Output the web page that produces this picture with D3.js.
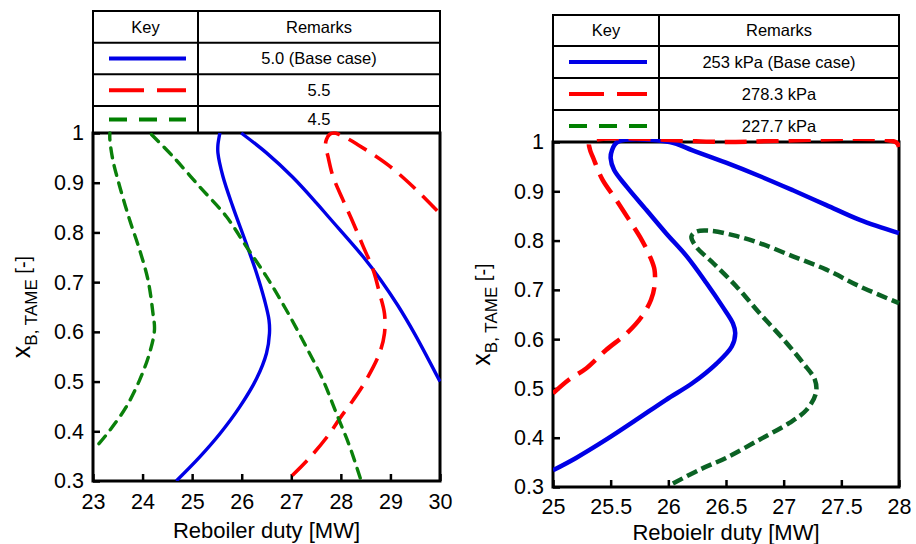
<!DOCTYPE html>
<html>
<head>
<meta charset="utf-8">
<script src="https://cdn.jsdelivr.net/npm/d3@7"></script>
<style>
  body { margin: 0; background: #fff; }
  svg { display: block; font-family: Arial, "Liberation Sans", sans-serif; }
</style>
</head>
<body>
<div id="chart"></div>
<script>
// ---- Datos: panel izquierdo (relación de reflujo) ----
const refluxTicksX = [23, 24, 25, 26, 27, 28, 29, 30]
const fracTicksY = [0.3, 0.4, 0.5, 0.6, 0.7, 0.8, 0.9, 1.0]
const refluxLabels = ["5.0 (Base case)", "5.5", "4.5"]

const refluxBaseLower = [
  [24.68, 0.300], [25.15, 0.348], [25.56, 0.395], [25.96, 0.449], [26.30, 0.506],
  [26.50, 0.557], [26.56, 0.597], [26.55, 0.624], [26.46, 0.664], [26.30, 0.718],
  [26.09, 0.778], [25.82, 0.852], [25.62, 0.913], [25.52, 0.960], [25.52, 0.976], [25.56, 1.0]
]
const refluxBaseUpper = [
  [25.99, 1.0], [26.50, 0.960], [27.03, 0.911], [27.51, 0.859], [27.78, 0.828],
  [28.45, 0.751], [28.80, 0.705], [29.15, 0.653], [29.50, 0.594], [30.0, 0.500]
]
const refluxHigh = [
  [27.02, 0.311], [27.40, 0.350], [27.77, 0.395], [27.98, 0.426], [28.25, 0.463],
  [28.51, 0.503], [28.78, 0.557], [28.88, 0.597], [28.88, 0.637], [28.78, 0.678],
  [28.65, 0.725], [28.45, 0.772], [28.25, 0.819], [28.04, 0.866], [27.84, 0.913],
  [27.74, 0.953], [27.69, 0.975], [27.71, 0.987], [27.77, 0.997], [27.86, 1.0],
  [27.97, 0.997], [28.15, 0.988], [28.35, 0.976], [28.65, 0.957], [28.95, 0.936],
  [29.26, 0.910], [29.56, 0.882], [29.80, 0.858], [30.0, 0.838]
]
const refluxLowLeft = [
  [23.12, 0.375], [23.34, 0.402], [23.67, 0.449], [23.94, 0.503], [24.14, 0.557],
  [24.24, 0.604], [24.21, 0.637], [24.11, 0.704], [23.94, 0.765], [23.74, 0.825],
  [23.54, 0.892], [23.40, 0.946], [23.34, 0.987], [23.34, 1.0]
]
const refluxLowRight = [
  [24.18, 0.997], [24.61, 0.953], [25.15, 0.892], [25.69, 0.832], [26.09, 0.772],
  [26.50, 0.711], [26.90, 0.644], [27.30, 0.570], [27.64, 0.503], [27.91, 0.436],
  [28.18, 0.369], [28.41, 0.300]
]

// ---- Datos: panel derecho (presión) ----
const pressureTicksX = [25, 25.5, 26, 26.5, 27, 27.5, 28]
const pressureLabels = ["253 kPa (Base case)", "278.3 kPa", "227.7 kPa"]

const pressureBase = [
  [25.0, 0.334], [25.20, 0.359], [25.46, 0.396], [25.72, 0.436], [25.98, 0.477],
  [26.21, 0.511], [26.42, 0.551], [26.55, 0.585], [26.58, 0.612], [26.56, 0.632],
  [26.47, 0.666], [26.33, 0.714], [26.16, 0.768], [25.98, 0.815], [25.81, 0.862],
  [25.64, 0.909], [25.53, 0.943], [25.50, 0.967], [25.51, 0.982], [25.56, 1.0],
  [26.01, 1.0], [26.21, 0.983], [26.50, 0.958], [26.79, 0.931], [27.08, 0.902],
  [27.37, 0.872], [27.66, 0.842], [28.0, 0.815]
]
const pressureHigh = [
  [25.0, 0.490], [25.14, 0.518], [25.29, 0.541], [25.46, 0.578], [25.64, 0.612],
  [25.77, 0.646], [25.85, 0.680], [25.88, 0.707], [25.88, 0.741], [25.84, 0.768],
  [25.77, 0.801], [25.66, 0.842], [25.55, 0.882], [25.43, 0.923], [25.35, 0.967],
  [25.32, 0.985], [25.32, 1.0], [26.5, 1.0], [27.97, 1.0], [28.0, 0.99]
]
const pressureLow = [
  [26.04, 0.307], [26.27, 0.335], [26.50, 0.359], [26.79, 0.396], [27.05, 0.430],
  [27.20, 0.457], [27.28, 0.491], [27.27, 0.518], [27.17, 0.551], [27.0, 0.599],
  [26.79, 0.653], [26.59, 0.707], [26.39, 0.754], [26.24, 0.788], [26.20, 0.808],
  [26.24, 0.818], [26.36, 0.820], [26.56, 0.811], [26.79, 0.795], [27.08, 0.768],
  [27.37, 0.741], [27.66, 0.707], [28.0, 0.673]
]

const svg = d3.select("#chart").append("svg")
  .attr("width", 916)
  .attr("height", 544)

function drawPanel(cfg, idx) {
  const { box, table } = cfg

  const x = d3.scaleLinear().domain(cfg.xDomain).range([box.left, box.right])
  const y = d3.scaleLinear().domain([0.3, 1]).range([box.bottom, box.top])

  // Tabla de leyenda (Key / Remarks)
  const tg = svg.append("g")
  const rows = table.rows
  tg.append("rect")
    .attr("x", box.left).attr("y", rows[0])
    .attr("width", box.right - box.left).attr("height", rows[rows.length - 1] - rows[0])
    .attr("fill", "#fff").attr("stroke", "#000").attr("stroke-width", 2)
  rows.slice(1, -1).forEach(r => {
    tg.append("line")
      .attr("x1", box.left).attr("x2", box.right)
      .attr("y1", r).attr("y2", r)
      .attr("stroke", "#000").attr("stroke-width", 2)
  })
  tg.append("line")
    .attr("x1", table.keyX).attr("x2", table.keyX)
    .attr("y1", rows[0]).attr("y2", rows[rows.length - 1] + 2)
    .attr("stroke", "#000").attr("stroke-width", 2)

  const keyMid = (box.left + table.keyX) / 2
  const remMid = (table.keyX + box.right) / 2
  const rowMid = i => (rows[i] + rows[i + 1]) / 2
  tg.append("text").attr("x", keyMid).attr("y", rowMid(0)).attr("dy", "0.36em")
    .attr("text-anchor", "middle").attr("font-size", 16.5).text("Key")
  tg.append("text").attr("x", remMid).attr("y", rowMid(0)).attr("dy", "0.36em")
    .attr("text-anchor", "middle").attr("font-size", 16.5).text("Remarks")

  cfg.legend.forEach((s, i) => {
    const ry = rowMid(i + 1)
    tg.append("line")
      .attr("x1", table.lineX[0]).attr("x2", table.lineX[1])
      .attr("y1", ry).attr("y2", ry)
      .attr("stroke", s.color).attr("stroke-width", 4)
      .attr("stroke-dasharray", s.dash || null)
    tg.append("text").attr("x", remMid).attr("y", ry).attr("dy", "0.36em")
      .attr("text-anchor", "middle").attr("font-size", 16.5).text(s.label)
  })

  // Marco del gráfico
  svg.append("rect")
    .attr("x", box.left).attr("y", box.top)
    .attr("width", box.right - box.left).attr("height", box.bottom - box.top)
    .attr("fill", "#fff")

  // Ejes con ticks hacia adentro
  const yAxis = svg.append("g")
    .attr("transform", `translate(${box.left},0)`)
    .call(d3.axisLeft(y).tickValues(fracTicksY).tickSize(-7).tickPadding(9)
      .tickFormat(d => d === 1 ? "1" : d3.format(".1f")(d)))
  const xAxis = svg.append("g")
    .attr("transform", `translate(0,${box.bottom})`)
    .call(d3.axisBottom(x).tickValues(cfg.xTicks).tickSize(-7).tickPadding(cfg.xPad)
      .tickFormat(d3.format("~g")))
  ;[xAxis, yAxis].forEach(a => {
    a.select(".domain").remove()
    a.selectAll(".tick line").attr("stroke", "#000").attr("stroke-width", 2.5)
    a.selectAll(".tick text").attr("fill", "#000").attr("font-size", 21.5)
      .attr("font-family", "Arial, 'Liberation Sans', sans-serif")
  })

  svg.append("rect")
    .attr("x", box.left).attr("y", box.top)
    .attr("width", box.right - box.left).attr("height", box.bottom - box.top)
    .attr("fill", "none").attr("stroke", "#000").attr("stroke-width", 3)

  // Curvas
  svg.append("clipPath").attr("id", "clip" + idx)
    .append("rect")
    .attr("x", box.left).attr("y", box.top - 3)
    .attr("width", box.right - box.left + 1).attr("height", box.bottom - box.top + 3)

  const line = d3.line()
    .x(d => x(d[0]))
    .y(d => y(d[1]))
    .curve(d3.curveCatmullRom.alpha(0.5))

  const lg = svg.append("g").attr("clip-path", `url(#clip${idx})`)
  cfg.series.forEach(s => {
    lg.append("path")
      .datum(s.data)
      .attr("d", line)
      .attr("fill", "none")
      .attr("stroke", s.color)
      .attr("stroke-width", s.width)
      .attr("stroke-dasharray", s.dash || null)
      .attr("stroke-linecap", s.cap || "butt")
  })

  // Títulos de ejes
  svg.append("text")
    .attr("x", (box.left + box.right) / 2)
    .attr("y", cfg.titleY)
    .attr("text-anchor", "middle")
    .attr("font-size", 22)
    .text(cfg.xLabel)

  const yt = svg.append("text")
    .attr("transform", `translate(${cfg.yTitleX},${(box.top + box.bottom) / 2}) rotate(-90)`)
    .attr("text-anchor", "middle")
  yt.append("tspan").attr("font-size", 25).text("x")
  yt.append("tspan").attr("font-size", 17).attr("dy", 7).text("B, TAME")
  yt.append("tspan").attr("font-size", 20).attr("dy", -7).text(" [-]")
}

const blue = "#0000e6", red = "#ff0000", greenKey = "#008000"

drawPanel({
  box: { left: 93, right: 440, top: 133, bottom: 481 },
  table: { rows: [11, 42.7, 74.3, 106, 133], keyX: 198, lineX: [109, 186] },
  xDomain: [23, 30],
  xTicks: refluxTicksX,
  xPad: 13,
  xLabel: "Reboiler duty [MW]",
  titleY: 538,
  yTitleX: 30,
  legend: [
    { color: blue, label: refluxLabels[0] },
    { color: red, dash: "35,13", label: refluxLabels[1] },
    { color: greenKey, dash: "18,12", label: refluxLabels[2] }
  ],
  series: [
    { data: refluxBaseLower, color: blue, width: 3.4 },
    { data: refluxBaseUpper, color: blue, width: 3.4 },
    { data: refluxHigh, color: red, width: 3.6, dash: "21,10" },
    { data: refluxLowLeft, color: "#0a800a", width: 3.4, dash: "10,8", cap: "round" },
    { data: refluxLowRight, color: "#0a800a", width: 3.4, dash: "10,8", cap: "round" }
  ]
}, 0)

drawPanel({
  box: { left: 553, right: 899, top: 142, bottom: 487 },
  table: { rows: [15, 46, 78, 110, 142], keyX: 659, lineX: [569, 647] },
  xDomain: [25, 28],
  xTicks: pressureTicksX,
  xPad: 12,
  xLabel: "Reboielr duty [MW]",
  titleY: 540,
  yTitleX: 490,
  legend: [
    { color: blue, label: pressureLabels[0] },
    { color: red, dash: "35,13", label: pressureLabels[1] },
    { color: greenKey, dash: "18,12", label: pressureLabels[2] }
  ],
  series: [
    { data: pressureBase, color: blue, width: 4.5 },
    { data: pressureHigh, color: red, width: 4.5, dash: "22,10" },
    { data: pressureLow, color: "#0b6224", width: 4.5, dash: "11,5" }
  ]
}, 1)
</script>
</body>
</html>
